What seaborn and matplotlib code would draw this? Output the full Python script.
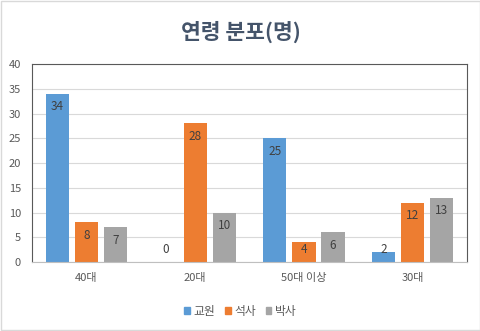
import matplotlib
matplotlib.use("Agg")
import matplotlib.pyplot as plt
import seaborn as sns
import pandas as pd
from matplotlib.patches import Rectangle

categories = ["40대", "20대", "50대 이상", "30대"]
series_names = ["교원", "석사", "박사"]
v_faculty = [34, 0, 25, 2]
v_master = [8, 28, 4, 12]
v_doctor = [7, 10, 6, 13]
y_ticks = [0, 5, 10, 15, 20, 25, 30, 35, 40]
colors = ["#5B9BD5", "#ED7D31", "#A5A5A5"]

rows = []
for name, vals in zip(series_names, [v_faculty, v_master, v_doctor]):
    for c, v in zip(categories, vals):
        rows.append({"cat": c, "series": name, "value": v})
df = pd.DataFrame(rows)

sns.set_theme(style="white")
plt.rcParams['font.family'] = ['Noto Sans CJK KR', 'DejaVu Sans']

fig = plt.figure(figsize=(4.81, 3.31), dpi=100)
ax = fig.add_axes([0.0665, 0.2085, 0.9045, 0.598])

sns.barplot(data=df, x="cat", y="value", hue="series", order=categories,
            hue_order=series_names, palette=colors, width=0.8, gap=0.2,
            ax=ax, legend=False, saturation=1, errorbar=None, linewidth=0)

ax.set_ylim(0, 40)
ax.set_yticks(y_ticks)
ax.set_yticklabels([str(t) for t in y_ticks])
ax.set_xlim(-0.5, 3.5)
ax.set_xlabel("")
ax.set_ylabel("")
ax.yaxis.grid(True, color="#D9D9D9", linewidth=0.8)
ax.set_axisbelow(True)
ax.tick_params(axis="both", length=0, labelsize=8, labelcolor="#595959", pad=8)
for side in ["left", "top", "right"]:
    ax.spines[side].set_visible(True)
    ax.spines[side].set_color("#595959")
    ax.spines[side].set_linewidth(0.8)
ax.spines["bottom"].set_color("#BFBFBF")
ax.spines["bottom"].set_linewidth(0.8)

# data labels (inside end)
for cont in ax.containers:
    for bar in cont:
        h = bar.get_height()
        y = max(h - 2.6, 2.6)
        ax.text(bar.get_x() + bar.get_width() / 2, y, f"{int(h)}",
                ha="center", va="center", fontsize=8.5, color="#404040")

fig.text(0.5, 0.903, "연령 분포(명)", ha="center", va="center",
         fontsize=15.5, fontweight="bold", color="#44546A")

handles = [Rectangle((0, 0), 1, 1, color=c) for c in colors]
fig.legend(handles, series_names, loc="center", bbox_to_anchor=(0.5, 0.06),
           ncol=3, frameon=False, fontsize=8.5, handlelength=0.5, handleheight=0.5,
           handletextpad=0.3, columnspacing=0.8, labelcolor="#595959")

fig.patches.append(Rectangle((0.002, 0.003), 0.996, 0.994, transform=fig.transFigure,
                             fill=False, edgecolor="#D9D9D9", linewidth=1))

fig.savefig("out.png", dpi=100, facecolor="white")
